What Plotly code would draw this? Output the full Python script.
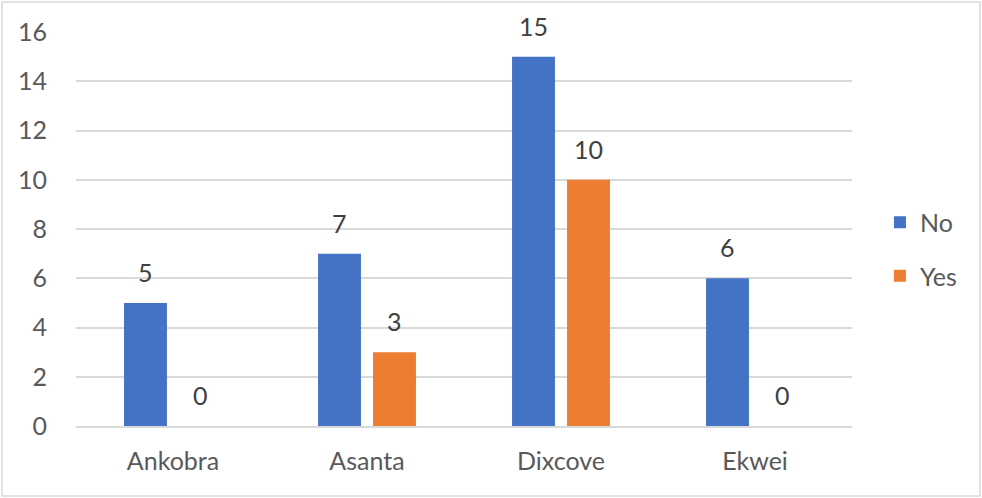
import plotly.graph_objects as go

categories = ["Ankobra", "Asanta", "Dixcove", "Ekwei"]
no_values = [5, 7, 15, 6]
yes_values = [0, 3, 10, 0]
y_ticks = [0, 2, 4, 6, 8, 10, 12, 14, 16]

BLUE = "#4472C4"
ORANGE = "#ED7D31"
FONT = "Lato"

fig = go.Figure()
fig.add_trace(go.Bar(x=categories, y=no_values, name="No", marker_color=BLUE,
                     marker_line_width=0, legendgroup="a"))
fig.add_trace(go.Bar(x=categories, y=yes_values, name="Yes", marker_color=ORANGE,
                     marker_line_width=0, legendgroup="b"))

annotations = []
off = 0.142
for i, (n, y) in enumerate(zip(no_values, yes_values)):
    for val, dx in ((n, -off), (y, off)):
        annotations.append(dict(x=i + dx, y=val, xref="x", yref="y", text=str(val),
                                showarrow=False, yanchor="bottom", yshift=14,
                                font=dict(family=FONT, size=25, color="#404040")))

fig.update_layout(
    width=982, height=498,
    margin=dict(l=76, r=130, t=32, b=72),
    paper_bgcolor="white", plot_bgcolor="white",
    barmode="group", bargap=0.433, bargroupgap=0.22,
    font=dict(family=FONT, size=25, color="#595959"),
    showlegend=True,
    legend=dict(x=1.036, xanchor="left", y=0.449, yanchor="middle",
                font=dict(family=FONT, size=25, color="#595959"),
                tracegroupgap=18, traceorder="grouped"),
    annotations=annotations,
    shapes=[dict(type="rect", xref="paper", yref="paper",
                 x0=-74/776, x1=(776 + 128) / 776, y0=-70/394, y1=(394 + 30) / 394,
                 line=dict(color="#D9D9D9", width=1.5), fillcolor="rgba(0,0,0,0)")],
)
fig.update_yaxes(range=[0, 16], tickvals=y_ticks, showgrid=True, gridcolor="#D9D9D9",
                 gridwidth=1.5, zeroline=False, showline=False, ticks="",
                 ticklabelstandoff=28, tickfont=dict(size=25, color="#595959"))
fig.update_xaxes(showline=True, linecolor="#D9D9D9", linewidth=1.5, ticks="",
                 ticklabelstandoff=12, tickfont=dict(size=25, color="#595959"))

fig.write_html("out.html")
